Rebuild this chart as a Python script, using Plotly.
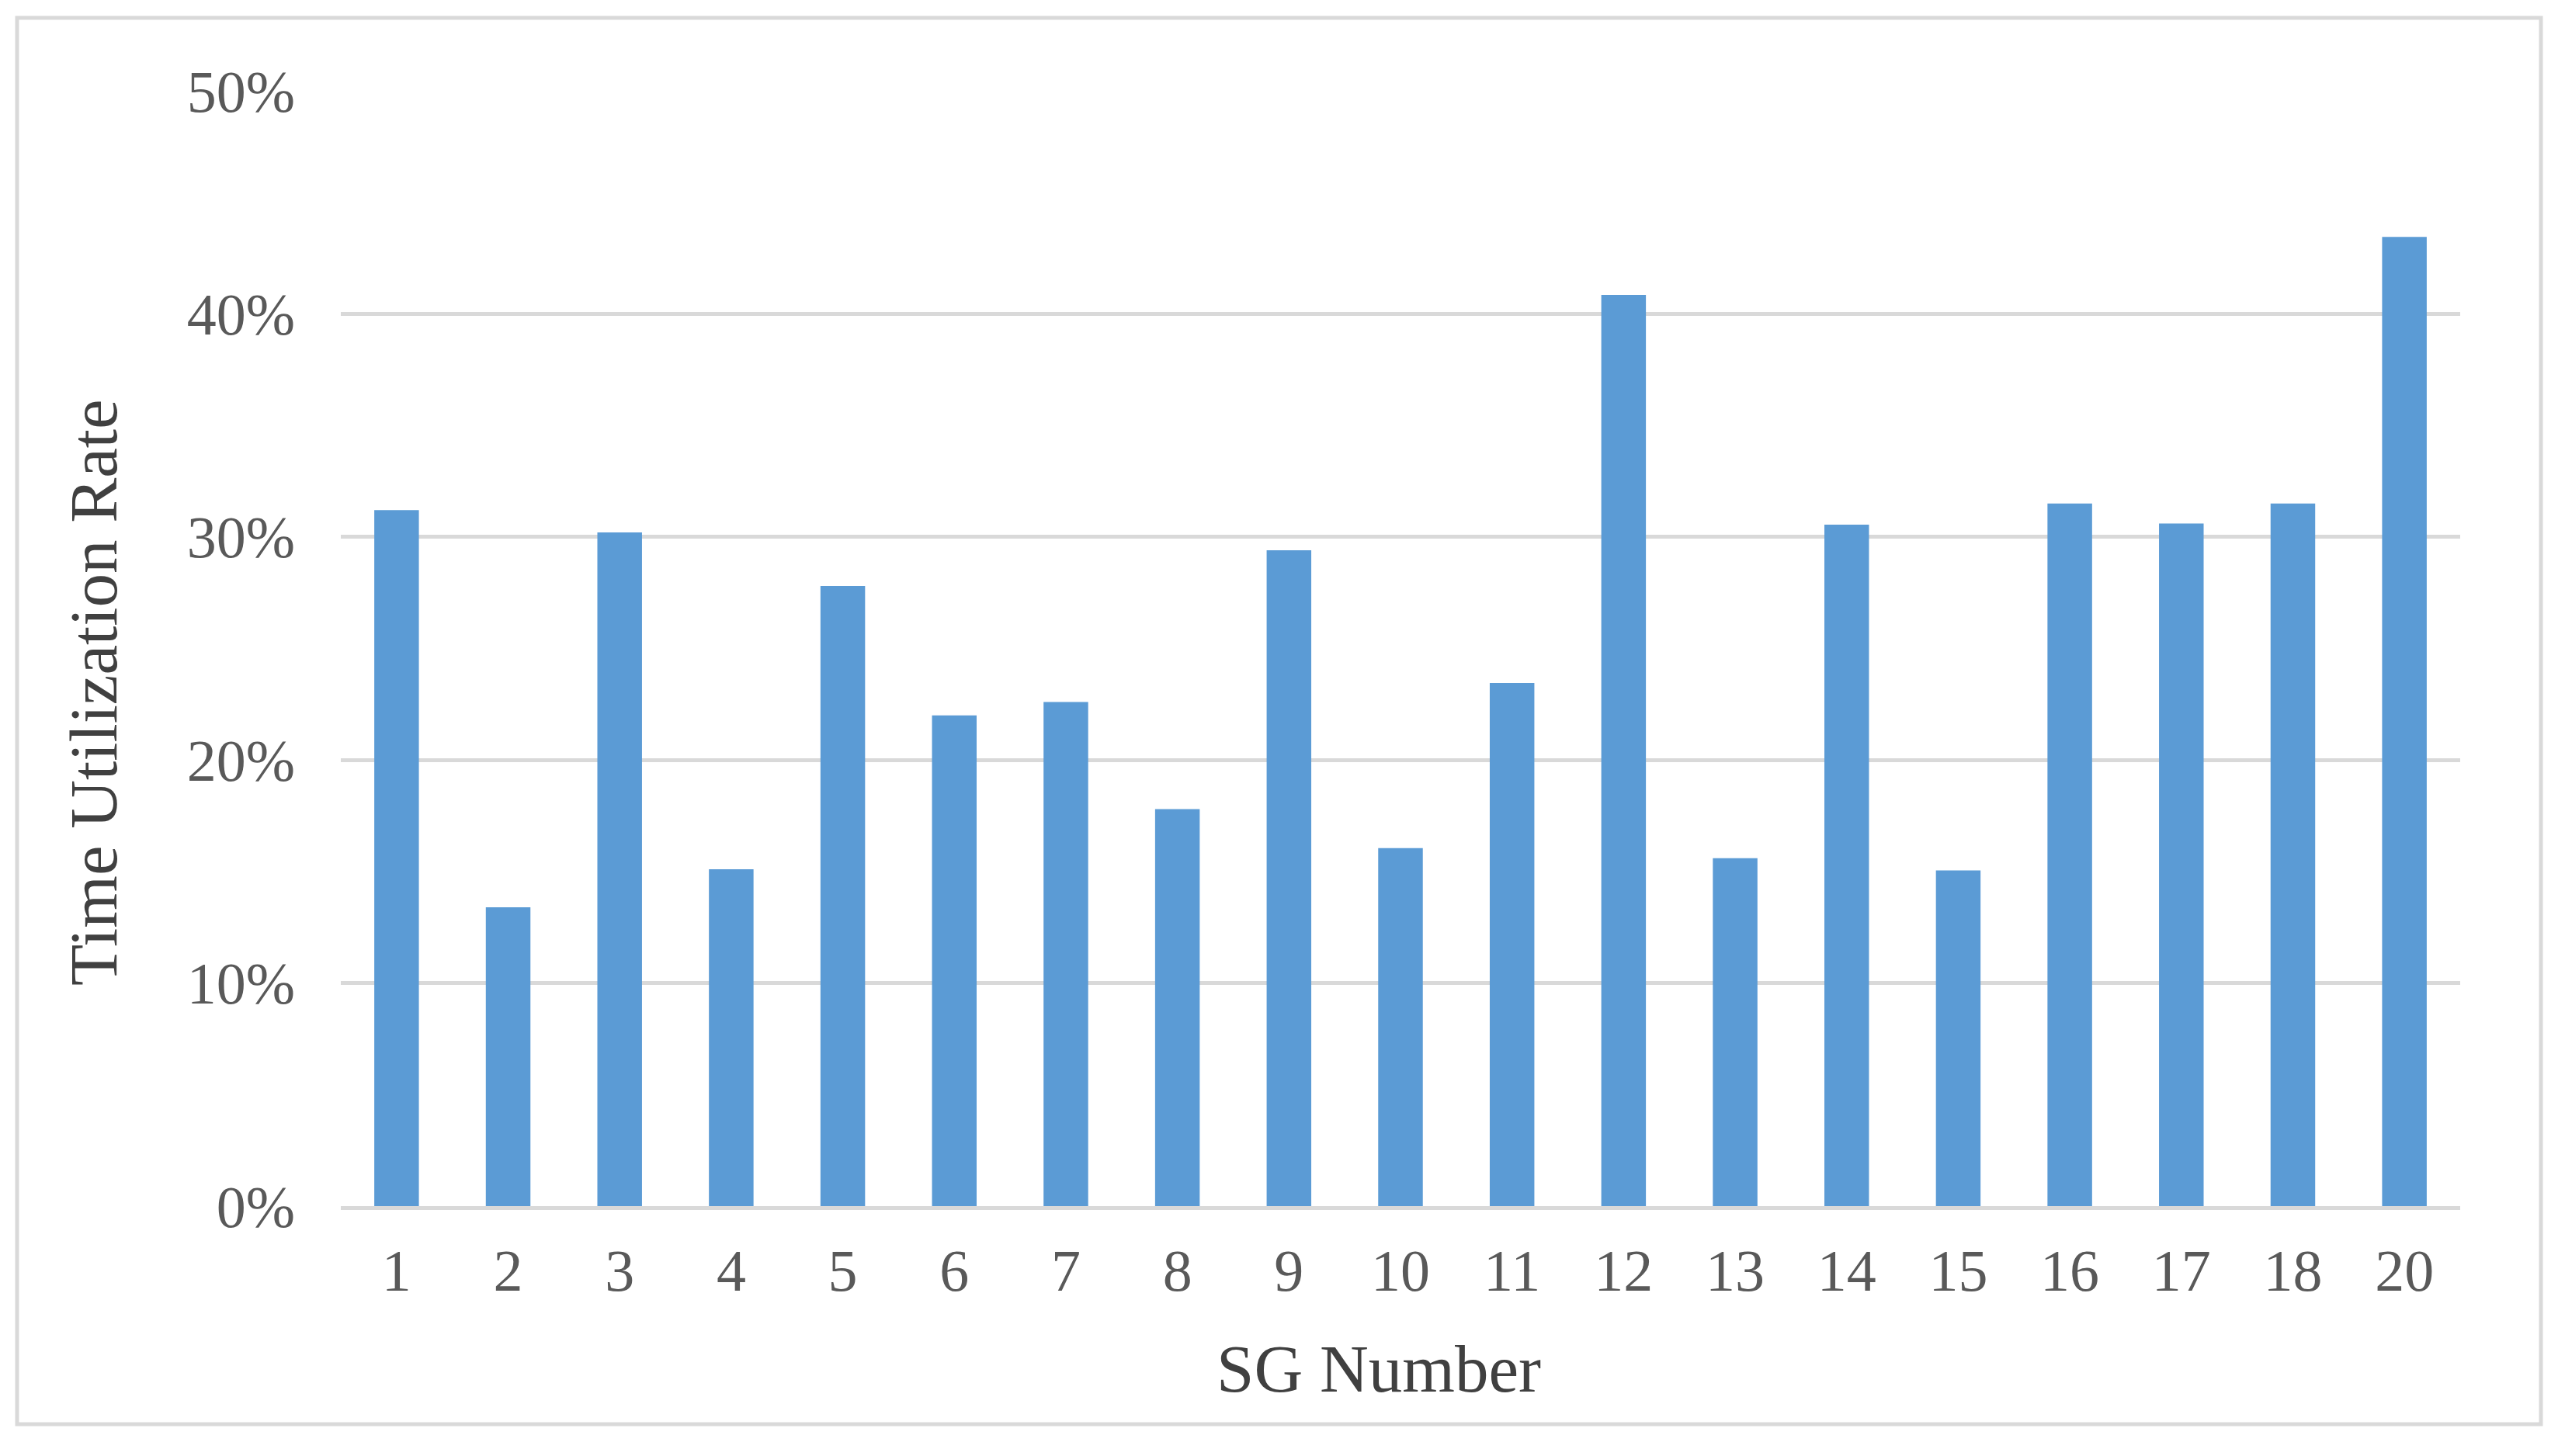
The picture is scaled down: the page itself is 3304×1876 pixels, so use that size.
import plotly.graph_objects as go

# ---- data ----
sg_numbers = ["1", "2", "3", "4", "5", "6", "7", "8", "9", "10",
              "11", "12", "13", "14", "15", "16", "17", "18", "20"]
utilization = [0.312, 0.134, 0.302, 0.151, 0.278, 0.220, 0.226, 0.178, 0.294, 0.1605,
               0.2345, 0.4085, 0.156, 0.3055, 0.1505, 0.315, 0.306, 0.315, 0.4345]
y_ticks = [0.0, 0.1, 0.2, 0.3, 0.4, 0.5]
x_title = "SG Number"
y_title = "Time Utilization Rate"

# ---- layout geometry (pixels, page coords; body margin of 8px compensated) ----
OFF = 8
W, H = 3304 - 2 * OFF, 1876 - 2 * OFF
L, R, T, B = 439 - OFF, 3169 - OFF, 117 - OFF, 1554 - OFF

def pxx(p):
    return (p - OFF - L) / (R - L)

def pxy(p):
    return (B - (p - OFF)) / (B - T)

FONT = "Liberation Serif, Times New Roman, serif"
GRID = "#D9D9D9"

fig = go.Figure(
    go.Bar(
        x=sg_numbers,
        y=utilization,
        marker=dict(color="#5B9BD5", line=dict(width=0)),
        hoverinfo="x+y",
    )
)

fig.update_layout(
    width=W,
    height=H,
    margin=dict(l=L, r=W - R, t=T, b=H - B, pad=0),
    paper_bgcolor="white",
    plot_bgcolor="white",
    bargap=0.6,
    showlegend=False,
    font=dict(family=FONT, color="#595959", size=76),
)

fig.update_yaxes(
    range=[0, 0.5],
    tickvals=y_ticks,
    tickformat=".0%",
    showgrid=True,
    gridcolor=GRID,
    gridwidth=5,
    zeroline=False,
    showline=False,
    ticks="",
    ticklabelstandoff=58,
    tickfont=dict(family=FONT, size=76, color="#595959"),
    fixedrange=True,
)

fig.update_xaxes(
    type="category",
    showgrid=False,
    showline=True,
    linecolor=GRID,
    linewidth=5,
    ticks="",
    ticklabelstandoff=13,
    tickfont=dict(family=FONT, size=76, color="#595959"),
    fixedrange=True,
)

# axis titles
fig.add_annotation(
    text=x_title, xref="paper", yref="paper",
    x=pxx(1776), y=pxy(1763), xanchor="center", yanchor="middle",
    showarrow=False, font=dict(family=FONT, size=87, color="#404040"),
)
fig.add_annotation(
    text=y_title, xref="paper", yref="paper",
    x=pxx(120), y=pxy(892), xanchor="center", yanchor="middle",
    textangle=-90, showarrow=False,
    font=dict(family=FONT, size=87, color="#404040"),
)

# chart border
fig.add_shape(
    type="rect", xref="paper", yref="paper",
    x0=pxx(22), x1=pxx(3273), y0=pxy(1835), y1=pxy(23),
    line=dict(color=GRID, width=5), fillcolor="rgba(0,0,0,0)", layer="below",
)

fig.write_html("out.html")
